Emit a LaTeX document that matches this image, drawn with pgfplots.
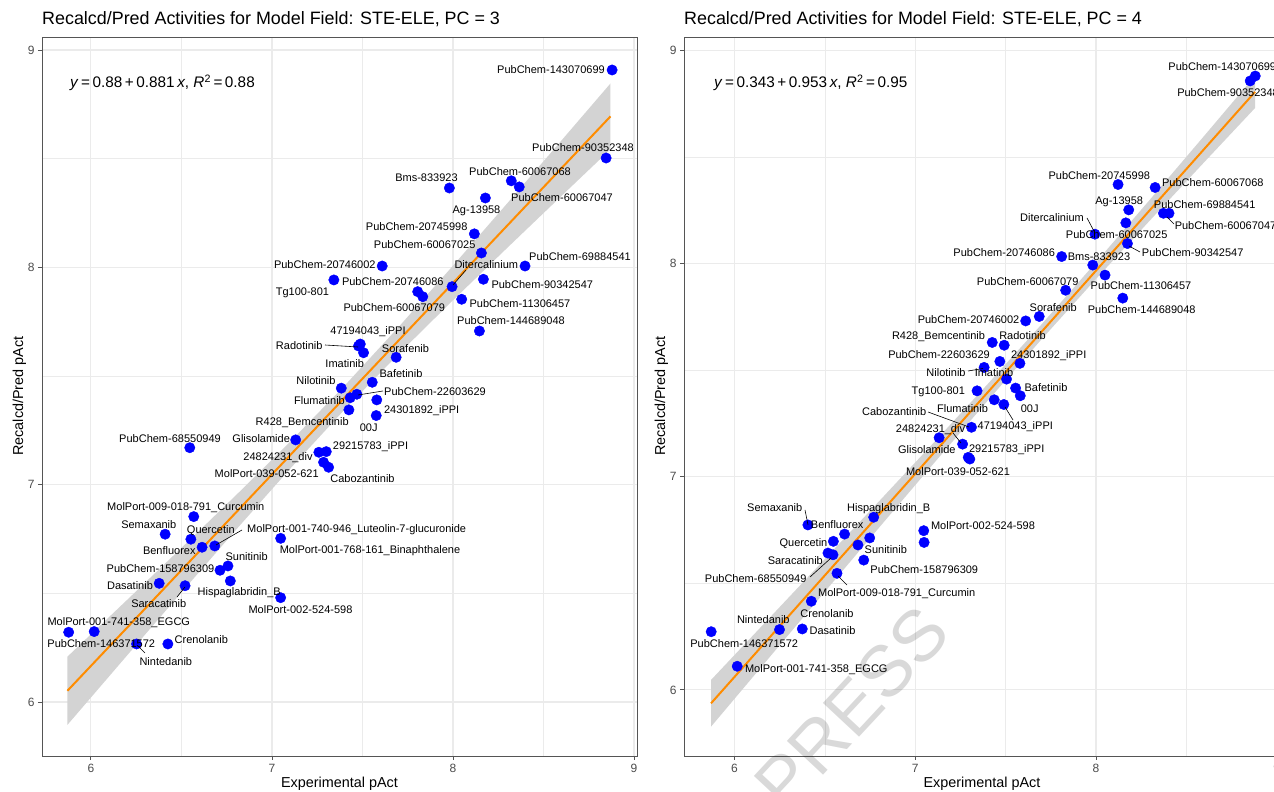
\documentclass[border=0pt]{standalone}
\usepackage{fontspec}
\setmainfont{Liberation Sans}
\usepackage{pgfplots}
\usepackage{pgfplotstable}
\pgfplotsset{compat=1.18}
\definecolor{ptblue}{HTML}{0000FF}
\definecolor{fitorange}{HTML}{FF8C00}
\definecolor{bandgray}{HTML}{D3D3D3}
\definecolor{gridgray}{HTML}{EBEBEB}
\definecolor{framegray}{HTML}{555555}
\definecolor{ticktext}{HTML}{4D4D4D}

\pgfplotstableread{
x y
8.879 8.908
8.846 8.503
7.980 8.365
8.322 8.398
8.366 8.370
8.179 8.319
8.118 8.154
8.157 8.066
7.995 7.911
7.805 7.888
7.833 7.865
8.398 8.006
8.168 7.945
8.048 7.853
8.146 7.707
7.609 8.006
7.342 7.942
7.488 7.647
7.478 7.638
7.506 7.607
7.686 7.586
7.554 7.471
7.469 7.416
7.432 7.400
7.383 7.444
7.425 7.344
7.579 7.390
7.576 7.318
7.131 7.206
6.546 7.170
7.300 7.152
7.259 7.149
7.285 7.103
7.313 7.080
6.568 6.853
6.410 6.772
6.552 6.749
6.684 6.718
6.614 6.712
7.048 6.753
6.757 6.626
6.713 6.606
6.770 6.557
6.377 6.546
6.520 6.535
7.048 6.480
5.877 6.321
6.018 6.324
6.252 6.267
6.425 6.267
}\leftdata

\pgfplotstableread{
x y
8.881 8.880
8.853 8.857
8.122 8.371
8.327 8.357
8.181 8.252
8.373 8.236
8.404 8.236
7.994 8.138
8.165 8.191
8.174 8.094
7.810 8.033
7.982 7.993
7.832 7.875
8.050 7.946
8.148 7.838
7.686 7.752
7.611 7.731
7.426 7.630
7.492 7.617
7.468 7.541
7.579 7.532
7.381 7.513
7.505 7.458
7.342 7.403
7.555 7.416
7.581 7.380
7.437 7.361
7.490 7.339
7.311 7.232
7.262 7.153
7.132 7.183
7.293 7.091
7.302 7.083
6.406 6.774
6.609 6.731
6.770 6.810
6.547 6.697
6.748 6.713
6.683 6.680
6.517 6.642
6.545 6.634
6.715 6.609
6.567 6.547
6.425 6.416
6.249 6.283
6.375 6.286
5.871 6.273
6.015 6.111
7.047 6.747
7.049 6.692
}\rightdata

\pgfplotsset{
  panel/.style={
    scale only axis, anchor=south west,
    axis line style={framegray, line width=0.9pt},
    grid=both,
    major grid style={gridgray, line width=1.1pt},
    minor grid style={gridgray, line width=0.55pt},
    minor tick num=1,
    minor tick length=0pt,
    major tick length=4pt,
    tick align=outside,
    tick pos=left,
    tick style={framegray, line width=0.9pt},
    xtick={6,7,8,9}, ytick={6,7,8,9},
    xticklabels={6,7,8,9}, yticklabels={6,7,8,9},
    ticklabel style={font=\fontsize{12}{13}\selectfont, text=ticktext},
    xticklabel style={yshift=-1pt},
    clip=true,
  },
}
\tikzset{
  lab/.style={font=\fontsize{11}{12}\selectfont, text=black, inner sep=0pt, text height=7.9pt, text depth=0pt, anchor=center},
  leader/.style={black, line width=0.6pt},
}
\newcommand\lab[3]{\node[lab] at (#1,#2) {#3};}
\newcommand\ld[4]{\draw[leader] (#1,#2) -- (#3,#4);}

\begin{document}
\begin{tikzpicture}
\useasboundingbox (0,0) rectangle (1274pt,792pt);
\clip (0,0) rectangle (1274pt,792pt);
\fill[white] (0,0) rectangle (1274pt,792pt);

% ---------------- left panel ----------------
\begin{axis}[panel, at={(42pt,36pt)}, width=595pt, height=719pt,
  xmin=5.7297, xmax=9.0165, ymin=5.7515, ymax=9.0598]
\addplot[draw=none, fill=bandgray] coordinates {
 (5.87,6.2084) (6.2,6.4698) (6.5,6.7089) (6.8,6.9503) (7.1,7.1970) (7.4,7.4542)
 (7.7,7.7256) (8.0,8.0075) (8.3,8.2947) (8.6,8.5842) (8.87,8.8460)
 (8.87,8.5430) (8.6,8.3290) (8.3,8.0899) (8.0,7.8485) (7.7,7.6018) (7.4,7.3446)
 (7.1,7.0732) (6.8,6.7913) (6.5,6.5041) (6.2,6.2146) (5.87,5.8946)} -- cycle;
\addplot[fitorange, line width=2pt] coordinates {(5.87,6.0515) (8.87,8.6945)};
\addplot[only marks, mark=*, mark size=5.2pt, mark options={draw=ptblue, fill=ptblue}] table[x=x, y=y] {\leftdata};
\end{axis}

% ---------------- right panel ----------------
\begin{axis}[panel, at={(684pt,36pt)}, width=601.8pt, height=719pt,
  xmin=5.7206, xmax=9.05, ymin=5.690, ymax=9.063]
\addplot[draw=none, fill=bandgray] coordinates {
 (5.87,6.0466) (6.2,6.3436) (6.5,6.6140) (6.8,6.8852) (7.1,7.1581) (7.4,7.4341)
 (7.7,7.7161) (8.0,8.0059) (8.3,8.3017) (8.6,8.6006) (8.88,8.8811)
 (8.88,8.7301) (8.6,8.4770) (8.3,8.2041) (8.0,7.9281) (7.7,7.6461) (7.4,7.3563)
 (7.1,7.0605) (6.8,6.7616) (6.5,6.4610) (6.2,6.1596) (5.87,5.8276)} -- cycle;
\addplot[fitorange, line width=2pt] coordinates {(5.87,5.9371) (8.88,8.8056)};
\addplot[only marks, mark=*, mark size=5.2pt, mark options={draw=ptblue, fill=ptblue}] table[x=x, y=y] {\rightdata};
\end{axis}

% ---------------- annotations (image pixel frame) ----------------
\begin{scope}[shift={(0pt,792pt)}, x=1pt, y=-1pt]
% titles
\node[anchor=base west, inner sep=0pt, font=\fontsize{17.9}{20}\selectfont] at (42,24.5) {Recalcd/Pred Activities for Model Field: STE-ELE, PC = 3};
\node[anchor=base west, inner sep=0pt, font=\fontsize{17.9}{20}\selectfont] at (684,24.5) {Recalcd/Pred Activities for Model Field: STE-ELE, PC = 4};
% axis titles
\node[lab, font=\fontsize{14.4}{16}\selectfont, text height=10.3pt] at (339.5,782) {Experimental pAct};
\node[lab, font=\fontsize{14.4}{16}\selectfont, text height=10.3pt] at (982,782) {Experimental pAct};
\node[lab, font=\fontsize{14.4}{16}\selectfont, text height=10.3pt, rotate=90] at (18,396) {Recalcd/Pred pAct};
\node[lab, font=\fontsize{14.4}{16}\selectfont, text height=10.3pt, rotate=90] at (660,396) {Recalcd/Pred pAct};
% equations
\node[anchor=base west, inner sep=0pt, font=\fontsize{15.3}{17}\selectfont] at (70,88) {\textit{y}\,=\,0.88\,+\,0.881\,\textit{x}, \textit{R}\textsuperscript{2}\,=\,0.88};
\node[anchor=base west, inner sep=0pt, font=\fontsize{15.3}{17}\selectfont] at (714,88) {\textit{y}\,=\,0.343\,+\,0.953\,\textit{x}, \textit{R}\textsuperscript{2}\,=\,0.95};

% left leaders
\ld{466}{270}{453}{285}
\ld{325}{345}{358}{347}
\ld{383}{391}{358}{395}
\ld{242}{530}{216}{545}
\ld{177}{597}{185}{587}
\ld{145}{653}{137.5}{645.5}
% left labels
\lab{551}{70}{PubChem-143070699}
\lab{583}{148}{PubChem-90352348}
\lab{426.5}{178}{Bms-833923}
\lab{520}{171.5}{PubChem-60067068}
\lab{562}{197.5}{PubChem-60067047}
\lab{476.5}{209.5}{Ag-13958}
\lab{416.7}{226.7}{PubChem-20745998}
\lab{424.7}{245}{PubChem-60067025}
\lab{486.3}{264.3}{Ditercalinium}
\lab{580}{256.7}{PubChem-69884541}
\lab{392.8}{281.7}{PubChem-20746086}
\lab{394.3}{307.3}{PubChem-60067079}
\lab{542.3}{285}{PubChem-90342547}
\lab{520}{303.3}{PubChem-11306457}
\lab{511}{321}{PubChem-144689048}
\lab{324.8}{264.3}{PubChem-20746002}
\lab{302.5}{291.7}{Tg100-801}
\lab{368}{331}{47194043\_iPPI}
\lab{299.2}{346}{Radotinib}
\lab{344.7}{363.3}{Imatinib}
\lab{405.5}{348.3}{Sorafenib}
\lab{401}{373.3}{Bafetinib}
\lab{435}{391.7}{PubChem-22603629}
\lab{319.5}{400.7}{Flumatinib}
\lab{316}{381}{Nilotinib}
\lab{302.2}{421.7}{R428\_Bemcentinib}
\lab{421.7}{409.3}{24301892\_iPPI}
\lab{368.7}{427.3}{00J}
\lab{261.2}{439}{Glisolamide}
\lab{170}{438.3}{PubChem-68550949}
\lab{370.5}{446}{29215783\_iPPI}
\lab{278}{456.7}{24824231\_div}
\lab{266.7}{474}{MolPort-039-052-621}
\lab{362.5}{478.3}{Cabozantinib}
\lab{185.8}{506.7}{MolPort-009-018-791\_Curcumin}
\lab{148.8}{525}{Semaxanib}
\lab{210.8}{530}{Quercetin}
\lab{356.7}{529}{MolPort-001-740-946\_Luteolin-7-glucuronide}
\lab{169.3}{550.7}{Benfluorex}
\lab{370}{549.3}{MolPort-001-768-161\_Binaphthalene}
\lab{246.7}{556.7}{Sunitinib}
\lab{160.5}{568.3}{PubChem-158796309}
\lab{239.2}{591.7}{Hispaglabridin\_B}
\lab{130}{586}{Dasatinib}
\lab{158.8}{603.3}{Saracatinib}
\lab{300.5}{609.3}{MolPort-002-524-598}
\lab{118.8}{621.7}{MolPort-001-741-358\_EGCG}
\lab{101.3}{643.3}{PubChem-146371572}
\lab{165.8}{661.7}{Nintedanib}
\lab{201.3}{639.3}{Crenolanib}

% right leaders
\ld{805}{510}{808}{525}
\ld{1087}{218}{1095}{233}
\ld{1167}{217}{1174}{224}
\ld{1129}{246}{1140}{252}
\ld{968}{371}{983}{368.5}
\ld{1005}{407}{1013}{420}
\ld{928}{412}{969}{427}
\ld{953}{433}{961}{443}
\ld{810}{577}{831}{558}
\ld{838}{576}{847}{585}
% right labels
\lab{1222.3}{66.7}{PubChem-143070699}
\lab{1228}{92.7}{PubChem-90352348}
\lab{1099.3}{175.7}{PubChem-20745998}
\lab{1212.8}{182.3}{PubChem-60067068}
\lab{1119.2}{201}{Ag-13958}
\lab{1204.7}{205}{PubChem-69884541}
\lab{1225.5}{225.7}{PubChem-60067047}
\lab{1052}{217.7}{Ditercalinium}
\lab{1116.7}{235}{PubChem-60067025}
\lab{1192.7}{252.3}{PubChem-90342547}
\lab{1004.2}{252.7}{PubChem-20746086}
\lab{1099}{256.7}{Bms-833923}
\lab{1027.7}{281.7}{PubChem-60067079}
\lab{1141}{286}{PubChem-11306457}
\lab{1141.7}{310}{PubChem-144689048}
\lab{1053.2}{307.3}{Sorafenib}
\lab{968.5}{319.3}{PubChem-20746002}
\lab{938.5}{336}{R428\_Bemcentinib}
\lab{1022.5}{336}{Radotinib}
\lab{939}{354.3}{PubChem-22603629}
\lab{1048.7}{354.3}{24301892\_iPPI}
\lab{946}{372.7}{Nilotinib}
\lab{994}{372.7}{Imatinib}
\lab{938.3}{391}{Tg100-801}
\lab{1046}{387.3}{Bafetinib}
\lab{1029.7}{408.7}{00J}
\lab{962.5}{408.3}{Flumatinib}
\lab{1015.3}{426}{47194043\_iPPI}
\lab{894.2}{411.7}{Cabozantinib}
\lab{930.5}{429}{24824231\_div}
\lab{926.8}{450}{Glisolamide}
\lab{1006.7}{448.3}{29215783\_iPPI}
\lab{958}{471.7}{MolPort-039-052-621}
\lab{774.7}{507.7}{Semaxanib}
\lab{888.7}{507.7}{Hispaglabridin\_B}
\lab{837.2}{525}{Benfluorex}
\lab{983}{525.5}{MolPort-002-524-598}
\lab{803.5}{542.3}{Quercetin}
\lab{885.8}{550}{Sunitinib}
\lab{795.3}{560.7}{Saracatinib}
\lab{924.3}{570}{PubChem-158796309}
\lab{755.7}{579}{PubChem-68550949}
\lab{896.7}{592.3}{MolPort-009-018-791\_Curcumin}
\lab{827}{613.3}{Crenolanib}
\lab{763.3}{620}{Nintedanib}
\lab{832.5}{631}{Dasatinib}
\lab{744.2}{644}{PubChem-146371572}
\lab{816.3}{668.3}{MolPort-001-741-358\_EGCG}

% watermark
\node[rotate=47, text=black, opacity=0.15, inner sep=0pt, font=\fontsize{72}{72}\selectfont] at (852,708) {PRESS};
\end{scope}
\end{tikzpicture}
\end{document}
